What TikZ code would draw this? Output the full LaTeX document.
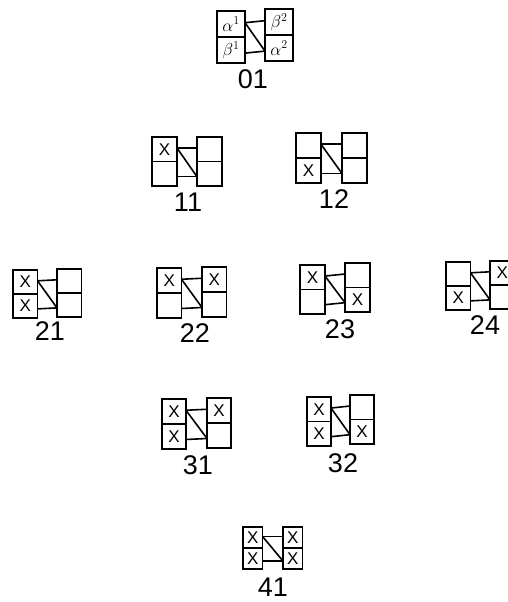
\documentclass[tikz,border=0pt]{standalone}
\usepackage{fontspec}
\setsansfont{Liberation Sans}
\usetikzlibrary{calc}
\tikzset{
  cellbox/.style={draw, line width=1.8pt, inner sep=0pt, outer sep=0pt, anchor=north west},
  conn/.style={line width=1.6pt},
  lbl/.style={font=\sffamily\fontsize{27}{27}\selectfont, inner sep=0pt},
  mk/.style={font=\sffamily\fontsize{17}{17}\selectfont, inner sep=0pt},
  gk/.style={font=\fontsize{18}{18}\selectfont, inner sep=0pt}
}
% #1 name, #2 left x, #3 left top y, #4 right x, #5 right top y, #6 box w, #7 box h
\newcommand\gunit[7]{%
  \node[cellbox, minimum width=#6pt, minimum height=#7pt] (#1ul) at (#2,#3) {};
  \node[cellbox, minimum width=#6pt, minimum height=#7pt] (#1ll) at (#1ul.south west) {};
  \node[cellbox, minimum width=#6pt, minimum height=#7pt] (#1ur) at (#4,#5) {};
  \node[cellbox, minimum width=#6pt, minimum height=#7pt] (#1lr) at (#1ur.south west) {};
  \draw[conn] ($(#1ul.north east)!0.45!(#1ul.south east)$) coordinate (#1a)
     -- ($(#1ur.north west)!0.45!(#1ur.south west)$);
  \draw[conn] ($(#1ll.north east)!0.62!(#1ll.south east)$)
     -- ($(#1lr.north west)!0.62!(#1lr.south west)$) coordinate (#1b);
  \draw[conn] (#1a) -- (#1b);
}
\begin{document}
\begin{tikzpicture}[x=1pt,y=-1pt]
\useasboundingbox (0,0) rectangle (508,602);
\clip (0,0) rectangle (508,602);
% 01
\gunit{g01}{217}{11}{265}{9}{28}{26}
\node[gk] at (g01ul) {$\alpha^1$};
\node[gk] at (g01ll) {$\beta^1$};
\node[gk] at (g01ur) {$\beta^2$};
\node[gk] at (g01lr) {$\alpha^2$};
\node[lbl] (l01) at (253,79) {01};
% 11
\gunit{g11}{152}{137}{197}{137}{25}{24.5}
\node[mk] at (g11ul) {X};
\node[lbl] (l11) at (188,202) {11};
% 12
\gunit{g12}{296}{133}{342}{133}{25}{25}
\node[mk] at (g12ll) {X};
\node[lbl] (l12) at (334,199) {12};
% 21
\gunit{g21}{13}{270}{57}{269}{24.5}{24}
\node[mk] at (g21ul) {X};
\node[mk] at (g21ll) {X};
\node[lbl] (l21) at (50,331) {21};
% 22
\gunit{g22}{157}{268}{202}{267}{24.5}{25}
\node[mk] at (g22ul) {X};
\node[mk] at (g22ur) {X};
\node[lbl] (l22) at (195,333) {22};
% 23
\gunit{g23}{300}{265}{345}{263}{25}{24.5}
\node[mk] at (g23ul) {X};
\node[mk] at (g23lr) {X};
\node[lbl] (l23) at (340,329) {23};
% 24
\gunit{g24}{446}{262}{490}{261}{24.5}{24}
\node[mk] at (g24ll) {X};
\node[mk] at (g24ur) {X};
\node[lbl] (l24) at (485,325) {24};
% 31
\gunit{g31}{162}{399}{207}{398}{24}{25}
\node[mk] at (g31ul) {X};
\node[mk] at (g31ll) {X};
\node[mk] at (g31ur) {X};
\node[lbl] (l31) at (198,465) {31};
% 32
\gunit{g32}{307}{397}{350}{395}{24}{24.5}
\node[mk] at (g32ul) {X};
\node[mk] at (g32ll) {X};
\node[mk] at (g32lr) {X};
\node[lbl] (l32) at (343,463) {32};
% 41
\gunit{g41}{243}{527}{283}{527}{19.5}{21}
\node[mk] at (g41ul) {X};
\node[mk] at (g41ll) {X};
\node[mk] at (g41ur) {X};
\node[mk] at (g41lr) {X};
\node[lbl] (l41) at (273,587) {41};
\end{tikzpicture}
\end{document}
